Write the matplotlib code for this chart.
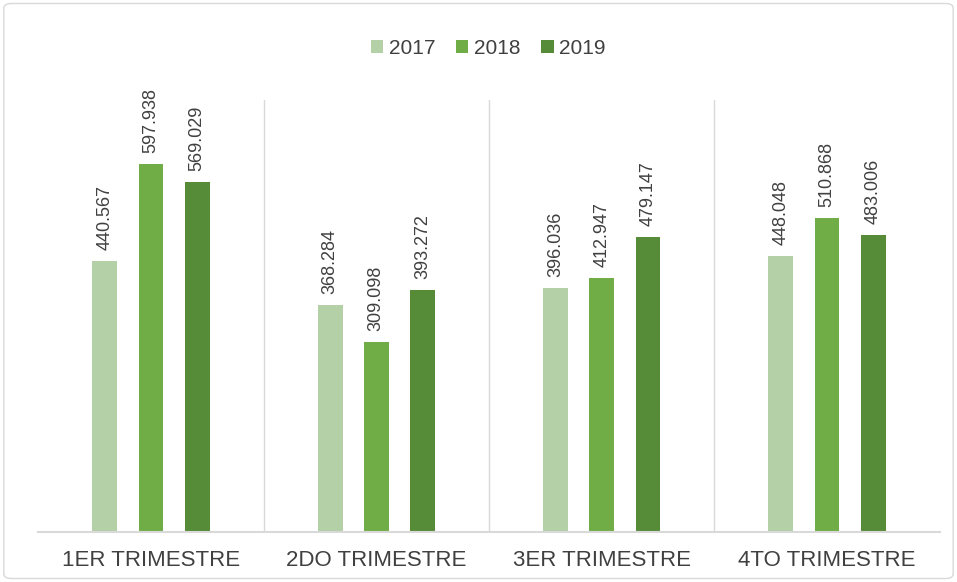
import numpy as np
import matplotlib.pyplot as plt
from matplotlib.patches import FancyBboxPatch

categories = ["1ER TRIMESTRE", "2DO TRIMESTRE", "3ER TRIMESTRE", "4TO TRIMESTRE"]
years = ["2017", "2018", "2019"]
v2017 = [440.567, 368.284, 396.036, 448.048]
v2018 = [597.938, 309.098, 412.947, 510.868]
v2019 = [569.029, 393.272, 479.147, 483.006]
colors = ["#b3d0a6", "#70ad47", "#568b38"]

plt.rcParams['font.family'] = ['Liberation Sans Narrow', 'Liberation Sans', 'DejaVu Sans']


def main():
    fig = plt.figure(figsize=(9.57, 5.82), dpi=100)
    fig.patches.append(FancyBboxPatch((0.004, 0.006), 0.992, 0.988,
                                      boxstyle="round,pad=0,rounding_size=0.008",
                                      transform=fig.transFigure, fc="white",
                                      ec="#d9d9d9", lw=1, zorder=-5))
    ax = fig.add_axes([0.040, 0.086, 0.942, 0.742])
    ax.patch.set_alpha(0)
    x = np.arange(len(categories))
    w = 0.11
    off = 0.205
    for i, (vals, yr) in enumerate(zip([v2017, v2018, v2019], years)):
        bars = ax.bar(x + (i - 1) * off, vals, w, color=colors[i], label=yr)
        for b, v in zip(bars, vals):
            ax.text(b.get_x() + b.get_width() / 2, v + 18, f"{v:.3f}",
                    rotation=90, ha="center", va="bottom", fontsize=13,
                    color="#404040")

    ax.set_xlim(-0.5, len(categories) - 0.5)
    ax.set_ylim(0, 702)
    for s in x[:-1]:
        ax.axvline(s + 0.5, color="#d9d9d9", lw=1)
    for sp in ["top", "right", "left"]:
        ax.spines[sp].set_visible(False)
    ax.spines["bottom"].set_color("#d9d9d9")
    ax.spines["bottom"].set_linewidth(1.5)
    ax.set_yticks([])
    ax.set_xticks(x)
    ax.set_xticklabels(categories, fontsize=16, color="#404040")
    ax.tick_params(axis="x", length=0, pad=13)

    fig.legend(loc="upper center", bbox_to_anchor=(0.51, 0.965), ncol=3,
               frameon=False, fontsize=15, handlelength=0.6, handleheight=0.6,
               handletextpad=0.25, columnspacing=1.0, labelcolor="#404040")
    fig.savefig("out.png", dpi=100)


if __name__ == "__main__":
    main()
